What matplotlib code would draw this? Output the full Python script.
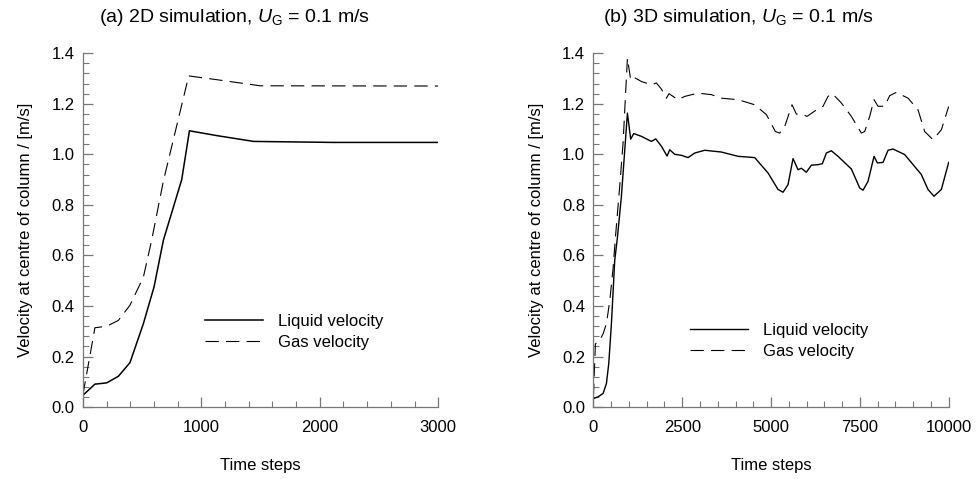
import numpy as np
import matplotlib.pyplot as plt
from matplotlib.ticker import MultipleLocator

plt.rcParams['font.family'] = ['Liberation Sans', 'DejaVu Sans']
plt.rcParams['mathtext.fontset'] = 'custom'
plt.rcParams['mathtext.it'] = 'Liberation Sans:italic'
plt.rcParams['mathtext.rm'] = 'Liberation Sans'

# (a) 2D simulation
t2d_liq = [0, 101, 200, 299, 397, 510, 600, 679, 834, 899, 1130, 1440, 2115, 3000]
v2d_liq = [0.047, 0.091, 0.096, 0.122, 0.176, 0.33, 0.475, 0.66, 0.90, 1.093, 1.074, 1.051, 1.047, 1.047]
t2d_gas = [0, 101, 200, 299, 397, 510, 580, 679, 893, 1101, 1496, 3000]
v2d_gas = [0.05, 0.314, 0.32, 0.343, 0.403, 0.514, 0.66, 0.894, 1.31, 1.297, 1.271, 1.27]

# (b) 3D simulation
t3d_liq = [0, 131, 272, 366, 432, 507, 600, 675, 788, 863, 957, 1050, 1135, 1351, 1632,
           1754, 1914, 2073, 2148, 2289, 2477, 2664, 2852, 3133, 3602, 4071, 4540, 4916,
           5197, 5338, 5478, 5619, 5760, 5854, 5994, 6135, 6323, 6445, 6557, 6698, 6886,
           7261, 7495, 7589, 7730, 7899, 7993, 8152, 8293, 8433, 8761, 9231, 9418, 9587,
           9794, 10000]
v3d_liq = [0.034, 0.041, 0.054, 0.093, 0.172, 0.33, 0.58, 0.67, 0.834, 0.979, 1.163, 1.06,
           1.082, 1.071, 1.051, 1.061, 1.032, 0.993, 1.018, 1.0, 0.996, 0.987, 1.005, 1.016,
           1.009, 0.992, 0.987, 0.926, 0.861, 0.85, 0.88, 0.983, 0.939, 0.945, 0.929, 0.957,
           0.959, 0.963, 1.005, 1.014, 0.992, 0.942, 0.867, 0.858, 0.893, 0.992, 0.966,
           0.968, 1.016, 1.021, 0.999, 0.92, 0.861, 0.834, 0.861, 0.968]
t3d_gas = [0, 56, 178, 272, 366, 460, 554, 619, 741, 835, 957, 1050, 1135, 1351, 1632,
           1773, 1914, 2054, 2129, 2242, 2383, 2570, 2946, 3321, 3602, 4071, 4540, 4869,
           5122, 5244, 5385, 5591, 5713, 5900, 6013, 6323, 6463, 6604, 6726, 6979, 7261,
           7542, 7636, 7777, 7899, 8011, 8199, 8340, 8527, 8856, 9137, 9325, 9559, 9794,
           10000]
v3d_gas = [0.04, 0.25, 0.265, 0.29, 0.33, 0.42, 0.55, 0.67, 0.874, 1.045, 1.38, 1.295,
           1.305, 1.288, 1.275, 1.282, 1.258, 1.222, 1.24, 1.229, 1.216, 1.229, 1.242,
           1.236, 1.222, 1.216, 1.196, 1.157, 1.09, 1.084, 1.11, 1.196, 1.159, 1.157, 1.15,
           1.18, 1.19, 1.229, 1.24, 1.203, 1.15, 1.084, 1.09, 1.15, 1.216, 1.19, 1.19, 1.232,
           1.245, 1.222, 1.176, 1.09, 1.058, 1.097, 1.189]

FS = 12

fig = plt.figure(figsize=(9.76, 4.79), dpi=100)
axa = fig.add_axes([0.085, 0.150, 0.364, 0.739])
axb = fig.add_axes([0.608, 0.150, 0.364, 0.739])

def style(ax, xmax, xmaj, xmin):
    ax.set_xlim(0, xmax)
    ax.set_ylim(0, 1.4)
    ax.xaxis.set_major_locator(MultipleLocator(xmaj))
    ax.xaxis.set_minor_locator(MultipleLocator(xmin))
    ax.yaxis.set_major_locator(MultipleLocator(0.2))
    ax.yaxis.set_minor_locator(MultipleLocator(0.04))
    ax.yaxis.set_major_formatter(plt.FormatStrFormatter('%.1f'))
    for s in ['top', 'right']:
        ax.spines[s].set_visible(False)
    for s in ['left', 'bottom']:
        ax.spines[s].set_color('#777777')
        ax.spines[s].set_linewidth(0.9)
    ax.tick_params(which='major', direction='in', length=7, width=0.9, color='#777777',
                   labelsize=FS)
    ax.tick_params(which='minor', direction='in', length=4.5, width=0.8, color='#777777')
    ax.tick_params(axis='x', pad=9)
    ax.tick_params(axis='y', pad=6)
    ax.set_xlabel('Time steps', fontsize=FS, labelpad=17)
    ax.set_ylabel('Velocity at centre of column / [m/s]', fontsize=FS, labelpad=13)

axa.plot(t2d_liq, v2d_liq, color='black', lw=1.1, label='Liquid velocity')
axa.plot(t2d_gas, v2d_gas, color='black', lw=0.8, dashes=(12, 6.5), label='Gas velocity')
style(axa, 3000, 1000, 200)
axa.legend(loc='center left', bbox_to_anchor=(0.30, 0.213), frameon=False, fontsize=FS,
           handlelength=3.5, handletextpad=0.9, labelspacing=0.35)

axb.plot(t3d_liq, v3d_liq, color='black', lw=1.0, label='Liquid velocity')
axb.plot(t3d_gas, v3d_gas, color='black', lw=0.8, dashes=(12, 6.5), label='Gas velocity')
style(axb, 10000, 2500, 500)
axb.legend(loc='center left', bbox_to_anchor=(0.23, 0.188), frameon=False, fontsize=FS,
           handlelength=3.5, handletextpad=0.9, labelspacing=0.35)

fig.text(234 / 976, 1 - 18 / 479, '(a) 2D simulation, $U_\\mathrm{G}$ = 0.1 m/s',
         ha='center', va='center', fontsize=14)
fig.text(738 / 976, 1 - 18 / 479, '(b) 3D simulation, $U_\\mathrm{G}$ = 0.1 m/s',
         ha='center', va='center', fontsize=14)

fig.savefig('out.png', dpi=100)
